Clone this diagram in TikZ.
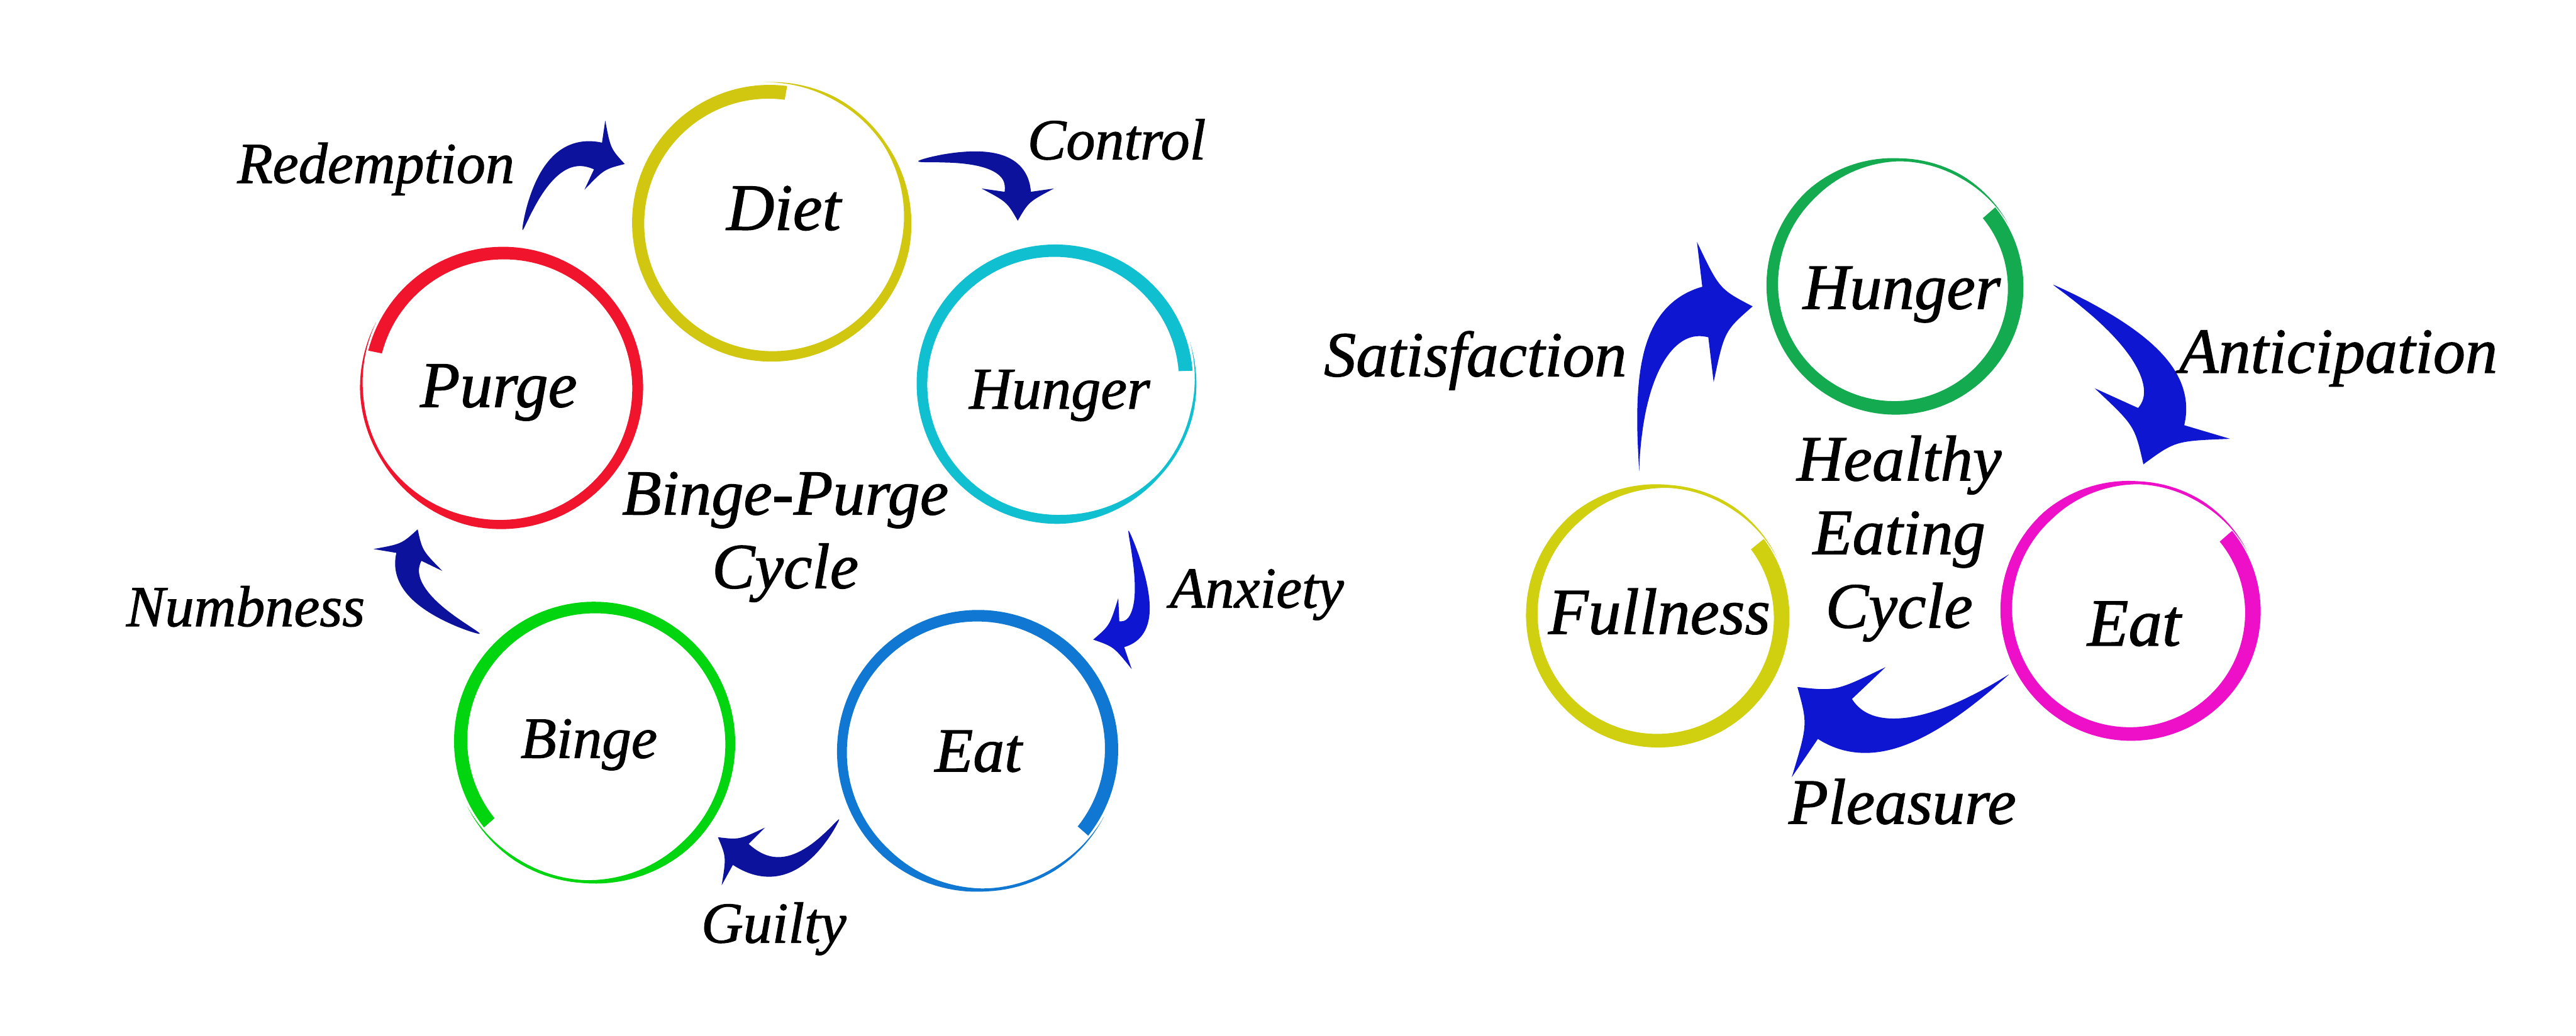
\documentclass[tikz,border=0pt]{standalone}
\usepackage{fontspec}
\setmainfont{Liberation Serif}[FakeBold=1.2]
\usetikzlibrary{calc}

\definecolor{cDiet}{HTML}{D2C710}
\definecolor{cHungerL}{HTML}{10C0D0}
\definecolor{cEatL}{HTML}{1078D2}
\definecolor{cBinge}{HTML}{00D50F}
\definecolor{cPurge}{HTML}{F0142D}
\definecolor{cHungerR}{HTML}{14AA50}
\definecolor{cEatR}{HTML}{EE10C8}
\definecolor{cFull}{HTML}{D0D010}
\definecolor{arrDark}{HTML}{0C129B}
\definecolor{arrBright}{HTML}{0F16D2}

\tikzset{
  lbl/.style={anchor=base, inner sep=0pt, font=\itshape\fontsize{#1}{26}\selectfont},
  title/.style={anchor=center, align=center, inner sep=0pt, font=\itshape\fontsize{#1}{25.5}\selectfont},
}

\newdimen\qdx \newdimen\qdy
% read a named coordinate into two macros (cm)
\newcommand\qget[3]{%
  \pgfextractx{\qdx}{\pgfpointanchor{#1}{center}}%
  \pgfextracty{\qdy}{\pgfpointanchor{#1}{center}}%
  \pgfmathsetmacro#2{\the\qdx/28.45274}%
  \pgfmathsetmacro#3{\the\qdy/28.45274}}
% quadratic bezier and its derivative in \x
\def\qbz#1#2#3{((1-\x)^2*(#1)+2*\x*(1-\x)*(#2)+\x^2*(#3))}
\def\qdr#1#2#3{(2*(1-\x)*((#2)-(#1))+2*\x*((#3)-(#2)))}
% ring half width profile
\def\ringw{(max(\rWb,min(\rWa*(1-0.5*\x),0.64*\rWa-(0.64*\rWa-\rWb)*(\x-0.72)/0.12))*min(1,(1-\x)/0.08))}

% brush ring: #1 centre, #2 radius, #3 start angle, #4 sweep, #5 wmax, #6 wmin, #7 drift, #8 colour
\newcommand\brushring[8]{%
  \qget{#1}\rcx\rcy
  \pgfmathsetmacro\rR{#2*0.02}%
  \pgfmathsetmacro\rD{#7*0.02}%
  \pgfmathsetmacro\rWa{#5*0.01}%
  \pgfmathsetmacro\rWb{#6*0.01}%
  \def\rS{(#3)}\def\rW{(#4)}%
  \begin{scope}[x=1cm,y=1cm]
    \fill[#8] plot[domain=0:1,samples=140]
      ({\rcx+(\rR-\rD/2+\rD*\x+\ringw)*cos(\rS+\rW*\x)},{\rcy+(\rR-\rD/2+\rD*\x+\ringw)*sin(\rS+\rW*\x)})
      -- plot[domain=1:0,samples=140]
      ({\rcx+(\rR-\rD/2+\rD*\x-\ringw)*cos(\rS+\rW*\x)},{\rcy+(\rR-\rD/2+\rD*\x-\ringw)*sin(\rS+\rW*\x)})
      -- cycle;
  \end{scope}}

% brush arrow: #1 colour, #2 tail, #3 control, #4 head base, #5 base width, #6 exponent, #7 head length, #8 head half width, #9 barb setback
\newcommand\brusharrow[9]{%
  \qget{#2}\qAx\qAy \qget{#3}\qCx\qCy \qget{#4}\qBx\qBy
  \pgfmathsetmacro\qhw{#5*0.01}%
  \def\qp{#6}%
  \pgfmathsetmacro\qlen{veclen(\qBx-\qCx,\qBy-\qCy)}%
  \pgfmathsetmacro\qdxx{(\qBx-\qCx)/\qlen}%
  \pgfmathsetmacro\qdyy{(\qBy-\qCy)/\qlen}%
  \pgfmathsetmacro\qL{#7*0.02}%
  \pgfmathsetmacro\qH{#8*0.02}%
  \pgfmathsetmacro\qbk{#9*0.02}%
  \pgfmathsetmacro\qTx{\qBx+\qL*\qdxx}\pgfmathsetmacro\qTy{\qBy+\qL*\qdyy}%
  \pgfmathsetmacro\qPx{\qBx-\qH*\qdyy-\qbk*\qdxx}\pgfmathsetmacro\qPy{\qBy+\qH*\qdxx-\qbk*\qdyy}%
  \pgfmathsetmacro\qMx{\qBx+\qH*\qdyy-\qbk*\qdxx}\pgfmathsetmacro\qMy{\qBy-\qH*\qdxx-\qbk*\qdyy}%
  \pgfmathsetmacro\qKPx{\qBx-0.3*\qH*\qdyy+0.35*\qL*\qdxx}\pgfmathsetmacro\qKPy{\qBy+0.3*\qH*\qdxx+0.35*\qL*\qdyy}%
  \pgfmathsetmacro\qKMx{\qBx+0.3*\qH*\qdyy+0.35*\qL*\qdxx}\pgfmathsetmacro\qKMy{\qBy-0.3*\qH*\qdxx+0.35*\qL*\qdyy}%
  \begin{scope}[x=1cm,y=1cm]
    \fill[#1] plot[domain=0.004:1,samples=70]
      ({\qbz\qAx\qCx\qBx-\qhw*(\x)^\qp*\qdr\qAy\qCy\qBy/veclen(\qdr\qAx\qCx\qBx,\qdr\qAy\qCy\qBy)},
       {\qbz\qAy\qCy\qBy+\qhw*(\x)^\qp*\qdr\qAx\qCx\qBx/veclen(\qdr\qAx\qCx\qBx,\qdr\qAy\qCy\qBy)})
      -- (\qPx,\qPy) .. controls (\qKPx,\qKPy) .. (\qTx,\qTy)
      .. controls (\qKMx,\qKMy) .. (\qMx,\qMy)
      -- plot[domain=1:0.004,samples=70]
      ({\qbz\qAx\qCx\qBx+\qhw*(\x)^\qp*\qdr\qAy\qCy\qBy/veclen(\qdr\qAx\qCx\qBx,\qdr\qAy\qCy\qBy)},
       {\qbz\qAy\qCy\qBy-\qhw*(\x)^\qp*\qdr\qAx\qCx\qBx/veclen(\qdr\qAx\qCx\qBx,\qdr\qAy\qCy\qBy)})
      -- cycle;
  \end{scope}}

\begin{document}
\begin{tikzpicture}[x=0.02cm,y=-0.02cm]
\fill[white] (0,0) rectangle (1568,630.8);

% ---------- ring centres ----------
\coordinate (dietC) at (469,135);
\coordinate (hungerLC) at (643,233);
\coordinate (eatLC) at (596,457);
\coordinate (bingeC) at (361,452);
\coordinate (purgeC) at (305.5,235.3);
\coordinate (hungerRC) at (1154.3,174.3);
\coordinate (eatRC) at (1297.7,371.9);
\coordinate (fullC) at (1009.9,375);

\brushring{dietC}{82}{83}{370}{8.5}{1.8}{6}{cDiet}
\brushring{hungerLC}{82}{5}{372}{8.5}{1.8}{6}{cHungerL}
\brushring{eatLC}{83}{-38}{370}{8.5}{1.8}{6}{cEatL}
\brushring{bingeC}{83}{218}{-371}{8.5}{1.8}{6}{cBinge}
\brushring{purgeC}{83}{165}{-372}{8.5}{1.8}{6}{cPurge}
\brushring{hungerRC}{75}{38.6}{-369}{10}{1.8}{6}{cHungerR}
\brushring{eatRC}{76}{38.6}{-371}{10}{1.8}{6}{cEatR}
\brushring{fullC}{77}{36.3}{-370}{10}{1.8}{6}{cFull}

% ---------- arrows ----------
\coordinate (redA) at (318,140.4); \coordinate (redC) at (334,86); \coordinate (redB) at (364,95);
\coordinate (conA) at (558.6,98.3); \coordinate (conC) at (619.5,89.2); \coordinate (conB) at (619.5,116.8);
\coordinate (anxA) at (686.8,322.8); \coordinate (anxC) at (705,382); \coordinate (anxB) at (682.8,386.2);
\coordinate (guiA) at (510.9,498.7); \coordinate (guiC) at (480.4,542.5); \coordinate (guiB) at (450.9,520.3);
\coordinate (numA) at (292.3,386); \coordinate (numC) at (241.3,363); \coordinate (numB) at (248.9,339.1);
\coordinate (satA) at (997.8,287.5); \coordinate (satC) at (996,195); \coordinate (satB) at (1038,190);
\coordinate (antA) at (1249.4,173.2); \coordinate (antC) at (1328.5,218.9); \coordinate (antB) at (1315.5,253.7);
\coordinate (pleA) at (1223.2,410.4); \coordinate (pleC) at (1150,466); \coordinate (pleB) at (1116.9,437.8);

\brusharrow{arrDark}{redA}{redC}{redB}{17}{0.7}{17}{22}{2}
\brusharrow{arrDark}{conA}{conC}{conB}{16}{0.6}{17.6}{22}{2}
\brusharrow{arrBright}{anxA}{anxC}{anxB}{16}{0.7}{17.7}{22}{2}
\brusharrow{arrDark}{guiA}{guiC}{guiB}{16}{0.7}{17.4}{22}{2}
\brusharrow{arrDark}{numA}{numC}{numB}{16}{0.65}{17.6}{22}{2}
\brusharrow{arrBright}{satA}{satC}{satB}{31}{1.2}{29}{43}{0}
\brusharrow{arrBright}{antA}{antC}{antB}{30}{0.9}{31}{44}{2}
\brusharrow{arrBright}{pleA}{pleC}{pleB}{32}{1.0}{30}{44}{3}

% ---------- labels, left cycle ----------
\node[lbl=23] (diet) at (477,140) {Diet};
\node[lbl=20.5] (hungerL) at (645,248.8) {Hunger};
\node[lbl=21.7] (eatL) at (595.5,469.8) {Eat};
\node[lbl=20.3] (binge) at (358.5,461.5) {Binge};
\node[lbl=22.6] (purge) at (303.5,247.8) {Purge};
\node[title=22.3] (bpc) at (478,327) {Binge-Purge\\Cycle};
\node[lbl=20.1] (redemption) at (228.8,111.4) {Redemption};
\node[lbl=20.1] (control) at (679.7,97) {Control};
\node[lbl=20.1] (anxiety) at (765,370) {Anxiety};
\node[lbl=20.1] (numbness) at (149.5,381.3) {Numbness};
\node[lbl=20.1] (guilty) at (471,574) {Guilty};

% ---------- labels, right cycle ----------
\node[lbl=22.4] (hungerR) at (1157.6,188.1) {Hunger};
\node[lbl=23.3] (eatR) at (1299,393.1) {Eat};
\node[lbl=22.7] (fullness) at (1010,386) {Fullness};
\node[title=22.4] (hec) at (1156,328) {Healthy\\Eating\\Cycle};
\node[lbl=22.2] (satisfaction) at (898,229.1) {Satisfaction};
\node[lbl=22.3] (anticipation) at (1423.3,227) {Anticipation};
\node[lbl=22.4] (pleasure) at (1158,501.6) {Pleasure};
\end{tikzpicture}
\end{document}
